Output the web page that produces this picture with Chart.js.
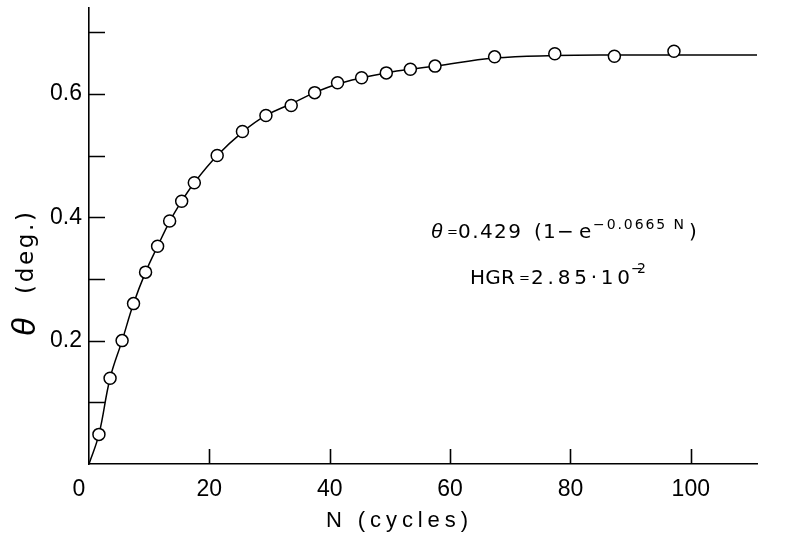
<!DOCTYPE html>
<html>
<head>
<meta charset="utf-8">
<script src="https://cdn.jsdelivr.net/npm/chart.js@4"></script>
<style>
  html, body { margin: 0; padding: 0; background: #fff; }
  #wrap { width: 789px; height: 534px; position: relative; }
</style>
</head>
<body>
<div id="wrap"><canvas id="chart"></canvas></div>
<script>
// measured points (open circles)
const cycles = [1.65, 3.5, 5.5, 7.4, 9.4, 11.4, 13.4, 15.4, 17.5, 21.3, 25.5, 29.4,
                33.6, 37.5, 41.3, 45.3, 49.4, 53.4, 57.5, 67.4, 77.4, 87.3, 97.2];
const theta  = [0.048, 0.139, 0.200, 0.260, 0.311, 0.353, 0.394, 0.426, 0.456, 0.500, 0.539, 0.565,
                0.581, 0.602, 0.618, 0.626, 0.634, 0.640, 0.645, 0.660, 0.665, 0.661, 0.669];

// fitted curve
const curveN     = [0, 1.65, 3.5, 5.5, 7.4, 9.4, 11.4, 13.4, 15.4, 17.5, 21.3, 25.5, 29.4,
                    33.6, 37.5, 41.3, 45.3, 49.4, 53.4, 57.5, 67.4, 77.4, 87.3, 97.2, 111];
const curveTheta = [0, 0.048, 0.139, 0.200, 0.260, 0.311, 0.353, 0.393, 0.426, 0.456, 0.500, 0.538, 0.565,
                    0.584, 0.602, 0.616, 0.626, 0.634, 0.640, 0.645, 0.658, 0.662, 0.663, 0.663, 0.663];

const xTickMarks = [20, 40, 60, 80, 100];
const xTickLabels = [0, 20, 40, 60, 80, 100];
const yTickMarks = [0.1, 0.2, 0.3, 0.4, 0.5, 0.6, 0.7];
const yTickLabels = [0.2, 0.4, 0.6];

const FONT = "'Liberation Sans', Arial, sans-serif";
const WIDE = "'DejaVu Sans', sans-serif";

// draw text stretched so it runs from x0 to x1
function drawFit(ctx, text, x0, x1, y) {
  const chars = [...text];
  const natural = chars.reduce((s, c) => s + ctx.measureText(c).width, 0);
  const gap = chars.length > 1 ? (x1 - x0 - natural) / (chars.length - 1) : 0;
  let x = x0;
  chars.forEach(c => { ctx.fillText(c, x, y); x += ctx.measureText(c).width + gap; });
}

const decorPlugin = {
  id: 'decor',
  afterDraw(chart) {
    const { ctx, chartArea, scales } = chart;
    const xs = scales.x, ys = scales.y;
    ctx.save();
    ctx.strokeStyle = '#000';
    ctx.lineWidth = 1.6;

    // inward tick marks
    ctx.beginPath();
    yTickMarks.forEach(v => {
      const y = Math.round(ys.getPixelForValue(v)) + 0.5;
      ctx.moveTo(chartArea.left, y);
      ctx.lineTo(chartArea.left + 16, y);
    });
    xTickMarks.forEach(v => {
      const x = Math.round(xs.getPixelForValue(v)) + 0.5;
      ctx.moveTo(x, chartArea.bottom);
      ctx.lineTo(x, chartArea.bottom - 15);
    });
    ctx.stroke();

    ctx.fillStyle = '#000';
    ctx.textBaseline = 'alphabetic';
    ctx.textAlign = 'left';

    // "0" on the x axis sits left of the origin
    ctx.font = '23px ' + FONT;
    ctx.textAlign = 'center';
    ctx.fillText('0', xs.getPixelForValue(0) - 10, 496);
    ctx.textAlign = 'left';

    // x title
    ctx.font = '22px ' + FONT;
    drawFit(ctx, 'N (cycles)', 326, 468, 527);

    // y title, rotated
    ctx.save();
    ctx.translate(35, 336);
    ctx.rotate(-Math.PI / 2);
    ctx.font = 'italic 33px ' + FONT;
    ctx.fillText('θ', 0, 0);
    ctx.restore();
    ctx.save();
    ctx.translate(33, 294);
    ctx.rotate(-Math.PI / 2);
    ctx.font = '23px ' + WIDE;
    drawFit(ctx, '(deg.)', 0, 82, 0);
    ctx.restore();

    // equation
    ctx.font = 'italic 21px ' + FONT;
    ctx.fillText('θ', 431, 238);
    ctx.font = '13px ' + WIDE;
    ctx.fillText('=', 447, 236);
    ctx.font = '20px ' + WIDE;
    drawFit(ctx, '0.429', 458, 521, 238);
    ctx.fillText('(', 534, 238);
    ctx.fillText('1', 543, 238);
    ctx.fillText('−', 557, 238);
    ctx.fillText('e', 579, 238);
    ctx.font = '14px ' + WIDE;
    drawFit(ctx, '−0.0665 N', 593, 684, 229);
    ctx.font = '20px ' + WIDE;
    ctx.fillText(')', 689, 238);

    ctx.font = '20px ' + WIDE;
    drawFit(ctx, 'HGR', 470, 515, 284);
    ctx.font = '13px ' + WIDE;
    ctx.fillText('=', 519, 282);
    ctx.font = '20px ' + WIDE;
    drawFit(ctx, '2.85·10', 531, 630, 284);
    ctx.font = '14px ' + WIDE;
    drawFit(ctx, '−2', 631, 646, 273);

    ctx.restore();
  }
};

const points = cycles.map((n, i) => ({ x: n, y: theta[i] }));
const curve = curveN.map((n, i) => ({ x: n, y: curveTheta[i] }));

new Chart(document.getElementById('chart'), {
  type: 'scatter',
  data: {
    datasets: [
      {
        label: 'measured',
        data: points,
        pointStyle: 'circle',
        pointRadius: 6,
        pointBorderWidth: 1.5,
        pointBackgroundColor: '#fff',
        pointBorderColor: '#000',
        showLine: false,
      },
      {
        label: 'fit',
        data: curve,
        showLine: true,
        pointRadius: 0,
        borderColor: '#000',
        borderWidth: 1.5,
        tension: 0.4,
        fill: false,
      },
    ],
  },
  options: {
    responsive: true,
    maintainAspectRatio: false,
    animation: false,
    layout: { padding: { left: 0, top: 4, right: 32, bottom: 0 } },
    plugins: {
      legend: { display: false },
      tooltip: { enabled: false },
    },
    scales: {
      x: {
        type: 'linear',
        min: 0,
        max: 111,
        afterFit: s => { s.height = 70; s.paddingLeft = 0; s.paddingRight = 0; },
        grid: { display: false, drawTicks: false },
        border: { display: true, color: '#000', width: 1.6 },
        ticks: {
          stepSize: 20,
          padding: 12,
          color: '#000',
          font: { family: FONT, size: 23 },
          maxRotation: 0,
          callback: v => (xTickLabels.includes(v) && v !== 0 ? String(v) : ''),
        },
      },
      y: {
        type: 'linear',
        min: 0,
        max: 0.74,
        afterFit: s => { s.width = 89; s.paddingTop = 0; s.paddingBottom = 0; },
        grid: { display: false, drawTicks: false },
        border: { display: true, color: '#000', width: 1.6 },
        ticks: {
          stepSize: 0.1,
          padding: 7,
          color: '#000',
          font: { family: FONT, size: 23 },
          callback: v => (yTickLabels.some(t => Math.abs(t - v) < 1e-6) ? v.toFixed(1) : ''),
        },
      },
    },
  },
  plugins: [decorPlugin],
});
</script>
</body>
</html>
